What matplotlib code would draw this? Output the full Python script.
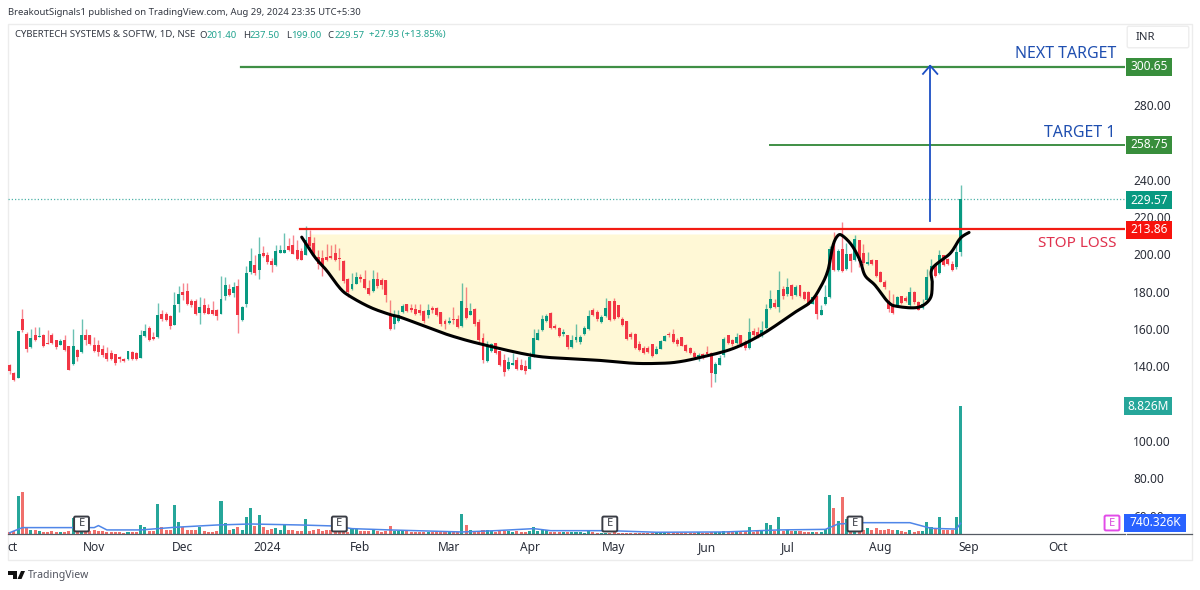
import matplotlib
matplotlib.use("Agg")
import matplotlib.pyplot as plt
from matplotlib.patches import Rectangle, FancyBboxPatch, Polygon
from matplotlib.lines import Line2D
import numpy as np

plt.rcParams['font.family'] = ['Noto Sans', 'DejaVu Sans']

direction = ("RRGRRGRGRRRRGRRGRGRR" "RRRRRRRRGRRGGRRGRRRG" "GRRRRGRRRRGGRGRGGGRG"
             "RRRGGGRRRRGRRRRRRRRR" "RGGRRRGRRRRGGGRRRRRG" "RRRRGRRGRGRRRGGRRRGG"
             "RRRGGGGGRRRGRGGGGGRR" "GGRRRRRRRRRRRGGGRRRR" "RRRGRRRGGGRRGRRGRRGG"
             "GRGRGRGRRRGRGGGRGRGR" "GRRGRRRRRRGRRGRRGGGRGRRRGG")

candle_top = [140.5,136.6,159.0,165.2,157.5,155.2,157.0,156.1,156.6,152.7,157.0,153.9,153.6,153.9,150.7,150.7,148.6,156.6,156.6,156.6,
 151.6,151.6,149.5,147.2,147.3,146.4,145.0,143.9,148.0,147.7,147.2,156.6,158.8,160.7,155.7,167.7,168.2,167.9,167.2,173.1,
 179.0,179.7,180.2,174.9,174.9,171.8,173.1,171.5,170.0,170.0,176.3,183.4,181.6,182.5,182.9,171.8,190.2,196.3,194.2,200.4,
 200.9,199.5,196.5,201.8,202.6,202.2,204.3,204.9,202.2,201.8,207.6,209.3,206.1,198.6,198.3,198.6,199.3,200.8,198.3,196.5,
 187.0,184.0,187.9,187.9,187.0,182.2,186.6,187.0,186.5,186.5,168.2,167.3,167.7,172.5,173.2,171.4,170.9,170.3,169.6,170.3,
 171.4,171.4,168.9,164.6,164.3,165.5,165.5,175.3,171.2,169.6,170.9,163.7,155.2,150.7,152.1,152.5,148.2,143.2,142.3,141.8,
 143.2,141.0,140.0,145.0,155.3,157.8,165.3,166.8,168.6,161.9,160.7,158.2,156.6,154.3,156.0,156.0,160.7,166.9,170.0,169.4,
 166.4,171.4,174.8,174.8,172.7,165.5,164.1,157.5,157.5,152.1,150.0,149.6,151.8,149.4,153.5,156.2,157.5,157.5,154.3,155.7,
 151.4,150.0,147.1,146.2,146.4,147.6,147.3,141.4,144.6,154.8,156.6,154.3,155.7,156.6,151.8,158.4,158.9,158.4,159.6,170.9,
 176.2,173.9,180.7,181.6,182.8,183.9,182.8,183.4,179.8,179.8,177.1,178.0,170.3,177.1,202.7,206.1,202.1,203.0,200.4,200.4,
 208.4,207.5,200.7,195.9,197.2,196.8,190.5,185.5,175.3,172.7,177.1,177.5,176.6,179.8,179.8,174.5,173.5,187.9,193.6,194.5,
 199.5,199.5,197.7,195.0,201.3,229.57]

candle_bottom = [137.5,132.5,133.8,159.3,149.5,150.4,153.9,155.7,150.9,152.0,152.7,150.4,151.6,148.6,138.2,141.1,145.0,147.7,154.3,152.2,
 148.2,147.7,145.9,144.1,144.1,141.8,143.8,142.9,143.8,143.9,143.9,144.7,156.3,153.9,154.8,155.7,165.6,165.0,161.5,162.3,
 173.6,178.1,173.6,172.7,168.2,168.8,168.8,168.2,167.9,166.8,168.2,177.5,178.4,179.3,167.3,164.7,173.2,190.6,190.0,191.5,
 199.2,195.9,194.2,194.2,200.9,200.9,202.6,200.4,197.4,197.2,199.9,204.3,199.5,195.0,193.3,197.2,198.1,197.2,197.5,185.6,
 179.9,181.5,184.3,186.8,182.2,179.0,180.4,182.9,183.4,178.1,160.2,162.9,164.3,169.1,169.6,170.0,168.2,168.6,164.3,167.3,
 170.0,167.3,162.5,162.5,163.5,165.0,161.0,161.4,166.1,167.8,162.5,153.9,143.2,142.8,148.2,147.1,141.0,136.9,138.7,141.0,
 138.7,138.2,137.5,138.7,145.9,154.3,159.3,164.3,160.7,160.5,156.2,157.5,150.3,150.3,154.3,153.0,157.1,160.2,167.5,165.2,
 163.7,166.8,165.0,165.5,166.4,162.3,154.8,155.7,150.0,148.9,147.1,147.6,145.7,146.7,149.4,153.5,156.8,153.0,151.8,151.0,
 148.2,147.1,145.0,144.1,144.6,146.7,136.4,135.7,141.0,146.0,152.5,151.8,152.5,151.8,149.6,150.0,156.6,156.0,156.4,160.7,
 171.4,171.8,171.8,178.0,178.6,177.5,178.2,177.5,176.2,173.0,173.5,168.2,167.8,173.5,177.1,191.8,191.8,191.4,192.3,196.4,
 196.8,196.4,195.4,195.0,195.0,188.2,185.5,182.5,170.9,168.6,172.7,173.9,175.0,172.7,174.5,170.3,171.4,175.7,189.6,188.4,
 190.2,194.1,195.0,191.9,193.2,201.4]

highs = [141.4,137.0,159.0,170.9,158.4,160.2,161.1,161.1,157.5,159.3,157.9,154.3,154.8,156.6,150.7,160.2,149.1,165.2,160.2,157.0,
 155.7,153.9,151.6,150.4,148.6,146.8,145.4,144.3,148.2,148.0,147.5,159.3,162.5,161.5,158.4,174.0,170.0,169.1,167.5,179.9,
 182.9,184.7,184.7,176.3,176.3,177.2,176.6,173.6,174.9,170.9,188.3,187.9,184.3,185.2,187.0,172.2,193.8,203.6,199.5,209.3,
 204.3,201.3,198.3,204.9,204.9,211.7,208.8,210.2,207.6,203.6,215.2,213.3,209.3,202.2,202.6,205.8,205.2,205.8,203.6,196.8,
 187.5,190.2,190.6,189.3,191.8,186.1,191.8,190.6,187.5,186.5,175.7,170.0,170.0,173.6,173.6,173.6,173.6,173.6,170.3,173.2,
 172.3,172.1,169.3,165.5,166.4,172.1,167.3,184.6,182.8,173.9,171.2,165.5,157.8,153.5,152.8,152.8,148.5,146.4,145.0,147.1,
 145.0,144.1,143.2,147.6,160.2,160.2,167.8,168.2,168.9,162.5,161.0,160.2,156.9,156.6,162.8,156.6,161.9,170.0,171.4,170.0,
 167.3,176.8,175.3,176.8,173.0,166.4,164.4,158.4,157.8,153.5,150.7,150.7,152.1,151.2,153.9,156.6,158.7,160.2,155.3,156.0,
 152.1,150.3,148.2,147.1,147.1,150.7,147.6,142.3,145.9,155.7,156.9,154.8,157.8,156.9,153.9,165.9,160.7,161.0,164.6,173.6,
 180.7,176.2,190.9,183.0,187.5,184.3,183.4,183.8,180.2,180.2,177.5,178.4,172.7,183.4,204.8,212.0,203.0,217.3,206.1,200.7,
 210.7,207.9,205.7,201.3,197.7,197.2,191.0,186.1,180.7,178.9,178.0,177.9,178.0,182.5,180.2,174.8,176.2,192.3,197.7,195.0,
 202.5,199.8,198.2,196.4,205.7,237.50]

lows = [136.1,132.0,133.8,158.4,147.7,150.0,153.4,155.7,150.4,151.8,152.2,149.1,151.3,148.2,137.9,140.7,142.7,147.3,151.6,151.6,
 147.7,145.4,145.0,142.7,143.2,140.5,142.3,142.5,143.4,143.6,143.6,144.3,155.7,153.4,153.9,155.4,164.1,164.3,160.2,162.0,
 169.1,175.7,172.7,171.8,167.7,162.5,168.2,167.9,167.3,165.0,167.9,175.4,177.7,177.2,157.9,164.3,171.8,189.7,188.8,186.8,
 198.6,195.0,190.6,193.8,200.8,200.8,201.8,200.0,196.8,196.8,199.5,203.6,198.6,192.4,188.4,196.5,197.7,196.5,191.5,184.7,
 177.2,181.1,184.0,185.2,181.6,178.4,179.9,182.2,181.6,174.5,159.7,160.2,163.8,168.7,169.1,169.1,167.7,167.8,163.5,166.1,
 168.6,166.8,161.9,160.2,162.8,162.5,160.7,161.0,165.3,167.3,161.9,153.2,141.7,142.3,147.5,146.4,140.3,135.1,138.2,140.5,
 138.2,137.8,136.0,138.4,145.3,153.9,158.9,163.7,160.2,159.8,155.7,156.2,149.4,150.0,153.0,152.1,156.6,159.6,166.9,164.3,
 163.2,166.4,164.6,165.0,166.1,161.6,154.3,154.8,149.4,148.2,146.4,147.1,145.3,146.4,149.1,153.4,155.7,152.5,151.2,150.7,
 147.6,146.4,144.1,142.8,144.1,146.4,129.2,131.6,140.5,145.3,151.8,151.2,152.1,150.3,148.9,149.4,155.7,155.3,156.0,160.2,
 170.9,171.4,169.1,176.2,178.0,176.2,177.5,177.1,175.7,172.7,173.2,165.5,167.5,172.7,176.8,191.4,191.4,190.5,191.9,190.5,
 196.4,193.2,194.5,194.5,194.5,187.9,185.2,181.6,169.1,168.2,172.1,173.2,174.5,172.1,173.6,170.0,170.9,175.0,183.4,187.9,
 189.6,193.6,194.5,191.0,192.3,199.00]

volume_m = [.15,.2,2.62,2.9,.42,.28,.25,.2,.15,.15,.2,.15,.15,.15,.2,1.1,.2,.2,.2,.2,
 .25,.2,.18,.15,.15,.15,.12,.08,.15,.15,.15,.6,.46,.2,.2,2.07,.46,.25,.25,2.03,
 .83,.5,.3,.25,.25,.5,.18,.15,.15,.2,2.25,.74,.28,.35,.5,.25,1.15,1.8,.55,1.3,
 .5,.3,.33,.42,.25,.65,.28,.25,.22,.18,1.05,.22,.3,.32,.22,.25,.3,.2,.2,.15,
 .15,.32,.32,.2,.2,.2,.25,.2,.15,.2,.55,.2,.2,.2,.2,.12,.12,.15,.12,.12,
 .12,.12,.15,.12,.12,.12,.15,1.4,.6,.25,.2,.22,.25,.25,.2,.15,.2,.2,.18,.15,
 .2,.15,.15,.2,.46,.2,.25,.25,.15,.15,.15,.12,.12,.12,.12,.15,.1,.28,.12,.1,
 .1,.1,.1,.12,.1,.1,.1,.1,.1,.1,.1,.1,.1,.1,.1,.12,.1,.1,.1,.1,
 .1,.1,.1,.12,.1,.1,.15,.15,.15,.23,.15,.15,.15,.18,.18,.46,.15,.18,.28,.74,
 .64,.2,1.15,.2,.28,.22,.2,.18,.15,.15,.12,.15,.15,.37,2.72,1.8,.9,2.53,1.03,.6,
 .5,.4,.3,.42,.25,.42,.3,.3,.35,.3,.28,.18,.15,.25,.15,.18,.2,.8,.5,.4,1.15,.25,.3,.25,1.2,8.826]

vol_ma_bar = [0,3,20,21,23,31,39,49,57,69,77,81,90,107,115,124,128,142,153,169,182,193,196,202,213,218,224,225]
vol_ma_m = [.09,.44,.44,.58,.28,.28,.46,.62,.69,.62,.55,.37,.28,.14,.23,.37,.23,.23,.12,.14,.28,.32,.69,.78,.78,.39,.34,.74]

curve_bar = [69.1,72.2,75,78.2,80.5,85.3,90,92.4,97.8,104.2,112,123.8,131.9,139.7,147.5,153.2,157.9,163.4,171.2,178.3,
 185.4,189.4,191.8,193.6,194.8,196,197.2,199.3,201.2,202.4,204.8,207.9,210.2,215,217.8,218.3,218.3,222.5,224.9,227]
curve_price = [209.3,198.6,191.4,181.8,177.6,171.7,167.8,166.4,161.9,156.6,151.7,145.8,144.2,143.2,141.7,141.6,142.3,144.8,149.6,157.6,
 168.4,174.4,182.3,191.4,204.8,210.2,209.8,204.8,196.8,188.7,183.4,174.4,172.1,171.7,176.4,184.4,192.5,200.5,208.6,211.8]

month_bar = [0.7,20,40.8,61,83,104,123,143,165,184,206,227,248]
month_label = ["ct","Nov","Dec","2024","Feb","Mar","Apr","May","Jun","Jul","Aug","Sep","Oct"]
price_ticks = [280,240,220,200,180,160,140,100,80,60]
target_next, target_one, stop_loss, last_close = 300.65, 258.75, 213.86, 229.57
earnings_bar = [17,78,142,200]

GREEN, RED = '#089981', '#f23645'
VG, VR = '#26a69a', '#f0706c'
LINE_GREEN, BLUE, TXT = '#3f8f45', '#1c4fc4', '#2a2e39'
W, H = 1200, 590

def fx(x): return x / W
def fy(y): return 1 - y / H

def smooth(xs, ys, steps=8):
    """Catmull-Rom path through the read points of the hand-drawn curve."""
    p = np.column_stack([xs, ys])
    p = np.vstack([p[0], p, p[-1]])
    out = []
    for i in range(1, len(p) - 2):
        for t in np.linspace(0, 1, steps, endpoint=False):
            out.append(0.5 * (2 * p[i] + (p[i + 1] - p[i - 1]) * t
                              + (2 * p[i - 1] - 5 * p[i] + 4 * p[i + 1] - p[i + 2]) * t ** 2
                              + (3 * p[i] - p[i - 1] - 3 * p[i + 1] + p[i + 2]) * t ** 3))
    out.append(p[-2])
    return np.array(out)

fig = plt.figure(figsize=(12, 5.9), dpi=100, facecolor='white')
fig.add_artist(Rectangle((fx(8), fy(560)), 1184 / W, 536 / H, transform=fig.transFigure,
                         fc='white', ec='#ececec', lw=1, zorder=-1))

pos = [fx(8), fy(534), 1117 / W, 510 / H]
axv = fig.add_axes(pos, zorder=1)
ax = fig.add_axes(pos, zorder=2)
for a in (ax, axv):
    a.set_xlim(-0.395, 263.9)
    a.patch.set_visible(False)
    for s in a.spines.values():
        s.set_visible(False)
ax.set_ylim(50.15, 323.55)
axv.set_ylim(0, 35.14)
axv.set_yticks([])
axv.set_xticks([])

n = len(direction)
idx = np.arange(n)
up = np.array([c == 'G' for c in direction])
top, bot = np.array(candle_top), np.array(candle_bottom)

# volume
axv.bar(idx, volume_m, width=0.72, color=[VG if u else VR for u in up], linewidth=0)
axv.plot(vol_ma_bar, vol_ma_m, color='#4f86e8', lw=1.1, zorder=3)

# pattern fill and levels
path = smooth(curve_bar, curve_price)
rim = 210.7
keep = [(b, min(p, rim)) for b, p in path if b >= 71]
poly = [(71, rim), (226.5, rim)] + keep[::-1]
ax.add_patch(Polygon(poly, closed=True, fc='#fff8d6', ec='none', zorder=1))
ax.axhline(last_close, color='#4fb3a8', lw=0.9, ls=(0, (1, 1.6)), zorder=1)

# candles
colors = [GREEN if u else RED for u in up]
ax.vlines(idx, lows, highs, colors=colors, lw=1.0, alpha=0.6, zorder=3)
ax.bar(idx, top - bot, bottom=bot, width=0.7, color=colors, linewidth=0, zorder=4)

ax.plot([54.7, 263.9], [target_next] * 2, color=LINE_GREEN, lw=1.6, zorder=5)
ax.plot([179.9, 263.9], [target_one] * 2, color=LINE_GREEN, lw=1.4, zorder=5)
ax.plot([68.7, 263.9], [stop_loss] * 2, color='#f21b12', lw=1.6, zorder=5)
ax.plot(path[:, 0], path[:, 1], color='black', lw=2.2, solid_capstyle='round', solid_joinstyle='round', zorder=6)

ax.plot([217.8, 217.8], [217.7, 301.0], color=BLUE, lw=1.3, zorder=7)
ax.plot([216.1, 217.8, 219.5], [296.8, 301.2, 296.8], color=BLUE, lw=1.3, zorder=7)

# axes labels
ax.yaxis.tick_right()
ax.set_yticks(price_ticks)
ax.set_yticklabels([f"{v:.2f}" for v in price_ticks], fontsize=8.6, color=TXT)
ax.tick_params(axis='y', length=0, pad=6)
ax.set_xticks(month_bar)
ax.set_xticklabels(month_label, fontsize=8.6, color=TXT)
ax.tick_params(axis='x', length=0, pad=5)
for t in ax.get_xticklabels():
    if t.get_text() == "2024":
        t.set_fontweight('bold')
ax.spines['bottom'].set_visible(True)
ax.spines['bottom'].set_color('#555a63')
ax.spines['bottom'].set_linewidth(0.9)
fig.add_artist(Line2D([fx(1127), fx(1192)], [fy(534), fy(534)], color='#555a63', lw=0.9, zorder=3))

# annotations
fig.text(fx(1116), fy(54), "NEXT TARGET", color='#1f4fb0', ha='right', va='center', fontsize=11.5, zorder=8)
fig.text(fx(1116), fy(132.5), "TARGET 1", color='#1f4fb0', ha='right', va='center', fontsize=11.5, zorder=8)
fig.text(fx(1116), fy(243.5), "STOP LOSS", color='#e0324e', ha='right', va='center', fontsize=11, zorder=8)

def badge(x0, x1, yc, label, fc, size=8.6):
    fig.add_artist(Rectangle((fx(x0), fy(yc + 9)), (x1 - x0) / W, 18 / H, transform=fig.transFigure,
                             fc=fc, ec='none', zorder=9))
    fig.text(fx((x0 + x1) / 2), fy(yc), label, color='white', ha='center', va='center',
             fontsize=size, fontweight='medium', zorder=10)

badge(1126, 1172, 67, "300.65", '#388e3c')
badge(1126, 1172, 145, "258.75", '#388e3c')
badge(1126, 1172, 200, "229.57", '#089981')
badge(1126, 1172, 229.5, "213.86", '#f7130d')
badge(1124, 1172, 406, "8.826M", '#26a69a')
badge(1124, 1186, 523, "740.326K", '#2962ff')

# earnings markers
def emark(xc, yc, ec, fc_text, size=15):
    fig.add_artist(FancyBboxPatch((fx(xc - size / 2 + 1.5), fy(yc + size / 2 - 1.5)), (size - 3) / W, (size - 3) / H,
                                  boxstyle="round,pad=0.0012", mutation_aspect=W / H,
                                  transform=fig.transFigure, fc='white', ec=ec, lw=1.4, zorder=7))
    fig.text(fx(xc), fy(yc), "E", color=fc_text, ha='center', va='center', fontsize=8, zorder=8)

for b in earnings_bar:
    emark(ax.transData.transform((b, 60))[0], 524, '#3a3d45', '#3a3d45')
emark(1112, 523, '#e24be8', '#d84bdc')

# header
fig.text(fx(8), fy(12.5), "BreakoutSignals1 published on TradingView.com, Aug 29, 2024 23:35 UTC+5:30",
         fontsize=6.85, color='#333842', va='center', ha='left')
def head(x, s, c):
    fig.text(fx(x), fy(35), s, fontsize=6.9, color=c, va='center', ha='left')
VAL = '#22a38f'
head(15, "CYBERTECH SYSTEMS & SOFTW, 1D, NSE", '#333842')
head(199.5, "O", '#333842'); head(207, "201.40", VAL)
head(243, "H", '#333842'); head(250, "237.50", VAL)
head(286, "L", '#333842'); head(291.5, "199.00", VAL)
head(327, "C", '#333842'); head(334.5, "229.57", VAL)
head(369, "+27.93 (+13.85%)", VAL)

# currency button
fig.add_artist(FancyBboxPatch((fx(1129), fy(46)), 58 / W, 18 / H, boxstyle="round,pad=0.0015",
                              mutation_aspect=W / H, transform=fig.transFigure, fc='white', ec='#ededed', lw=1, zorder=7))
fig.text(fx(1136), fy(37), "INR", fontsize=8.2, color=TXT, va='center', ha='left', zorder=8)

# TradingView logo
logo = [Polygon([(fx(8.3), fy(571)), (fx(17), fy(571)), (fx(17), fy(579)), (fx(12.5), fy(579)),
                 (fx(12.5), fy(575)), (fx(8.3), fy(575))], closed=True, transform=fig.transFigure, fc='#111', ec='none'),
        Polygon([(fx(21), fy(571)), (fx(25), fy(571)), (fx(21.5), fy(579)), (fx(17.5), fy(579))],
                closed=True, transform=fig.transFigure, fc='#111', ec='none')]
for p in logo:
    fig.add_artist(p)
fig.text(fx(28), fy(575.5), "TradingView", fontsize=7.5, color='#50535e', va='center', ha='left')

fig.savefig("out.png", dpi=100)
